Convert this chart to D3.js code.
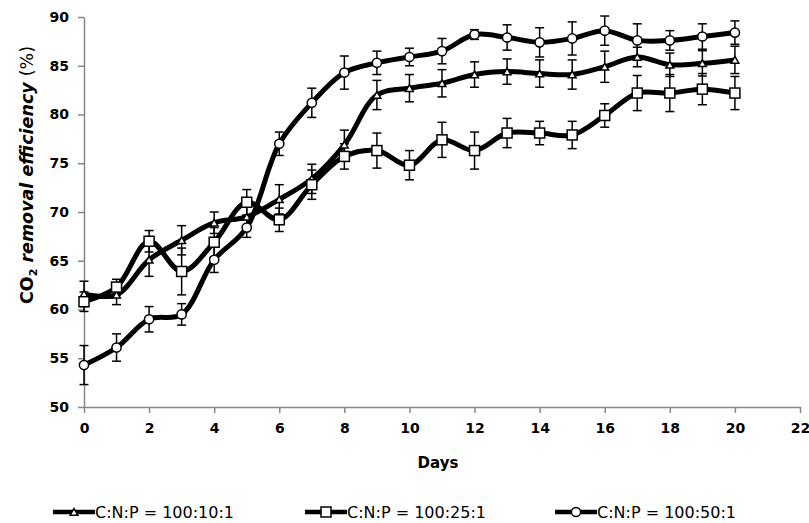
<!DOCTYPE html>
<html lang="en">
<head>
<meta charset="utf-8">
<script src="https://d3js.org/d3.v7.min.js"></script>
<style>
  body { margin: 0; background: #fff; }
  svg text { font-family: "DejaVu Sans", sans-serif; fill: #000; }
</style>
</head>
<body>
<svg id="chart" width="809" height="523"></svg>
<script>
// data
const days = [0, 1, 2, 3, 4, 5, 6, 7, 8, 9, 10, 11, 12, 13, 14, 15, 16, 17, 18, 19, 20];
const triVals = [61.6, 61.5, 65.1, 67.1, 68.9, 69.5, 71.3, 73.4, 76.9, 82.0, 82.7, 83.2, 84.1, 84.4, 84.2, 84.1, 84.9, 85.9, 85.1, 85.25, 85.6];
const triErr  = [1.3, 1.0, 1.7, 1.5, 1.1, 1.0, 1.5, 1.5, 1.5, 1.5, 1.4, 1.4, 1.3, 1.3, 1.4, 1.5, 1.6, 1.0, 1.2, 1.3, 1.4];
const sqVals  = [60.8, 62.3, 67.0, 63.9, 66.9, 71.0, 69.2, 72.8, 75.7, 76.3, 74.8, 77.4, 76.3, 78.1, 78.1, 77.9, 79.9, 82.2, 82.2, 82.6, 82.2];
const sqErr   = [1.0, 0.8, 1.1, 2.4, 1.5, 1.3, 1.2, 1.5, 1.3, 1.8, 1.5, 1.8, 1.9, 1.5, 1.2, 1.4, 1.2, 1.8, 1.9, 1.6, 1.7];
const circVals = [54.3, 56.1, 59.0, 59.5, 65.1, 68.4, 77.0, 81.2, 84.3, 85.3, 85.9, 86.5, 88.2, 87.9, 87.4, 87.8, 88.6, 87.6, 87.6, 88.0, 88.4];
const circErr  = [2.0, 1.4, 1.3, 1.1, 1.3, 1.0, 1.2, 1.5, 1.7, 1.2, 0.9, 1.3, 0.5, 1.3, 1.5, 1.7, 1.5, 1.7, 1.0, 1.3, 1.2];
const seriesNames = ["C:N:P = 100:10:1", "C:N:P = 100:25:1", "C:N:P = 100:50:1"];
const seriesShapes = ["triangle", "square", "circle"];
const xTicks = [0, 2, 4, 6, 8, 10, 12, 14, 16, 18, 20, 22];
const yTicks = [50, 55, 60, 65, 70, 75, 80, 85, 90];

const series = [
  { name: seriesNames[0], shape: seriesShapes[0], vals: triVals, err: triErr },
  { name: seriesNames[1], shape: seriesShapes[1], vals: sqVals, err: sqErr },
  { name: seriesNames[2], shape: seriesShapes[2], vals: circVals, err: circErr }
];

const svg = d3.select("#chart");
const axisColor = "#868686";

const x = d3.scaleLinear().domain([0, 22]).range([84, 800]);
const y = d3.scaleLinear().domain([50, 90]).range([407, 17]);

// axes
const gx = svg.append("g").attr("transform", "translate(0,407)")
  .call(d3.axisBottom(x).tickValues(xTicks).tickSize(6).tickSizeOuter(0).tickPadding(10));
const gy = svg.append("g").attr("transform", "translate(84,0)")
  .call(d3.axisLeft(y).tickValues(yTicks).tickSize(6).tickSizeOuter(0).tickPadding(9));
[gx, gy].forEach(g => {
  g.select(".domain").attr("stroke", axisColor).attr("stroke-width", 1.5);
  g.selectAll(".tick line").attr("stroke", axisColor).attr("stroke-width", 1.5);
  g.selectAll(".tick text").attr("font-size", 14).attr("font-weight", "bold")
    .attr("font-family", "DejaVu Sans, sans-serif").attr("fill", "#111");
});

// axis titles
svg.append("text").attr("x", 438).attr("y", 468).attr("text-anchor", "middle")
  .attr("font-size", 15).attr("font-weight", "bold").text("Days");

const yl = svg.append("text").attr("transform", "translate(33,175) rotate(-90)")
  .attr("text-anchor", "middle").attr("font-size", 17.5).attr("font-weight", "bold");
yl.append("tspan").text("CO");
yl.append("tspan").attr("font-size", 11).attr("dy", 4).text("2");
yl.append("tspan").attr("dy", -4).attr("font-style", "italic").text(" removal efficiency ");
yl.append("tspan").attr("font-weight", "normal").text("(%)");

// marker drawing
function drawMarker(g, shape, cx, cy) {
  if (shape === "square") {
    g.append("rect").attr("x", cx - 5).attr("y", cy - 5).attr("width", 10).attr("height", 10)
      .attr("fill", "#fff").attr("stroke", "#000").attr("stroke-width", 1.5);
  } else if (shape === "circle") {
    g.append("circle").attr("cx", cx).attr("cy", cy).attr("r", 4.6)
      .attr("fill", "#fff").attr("stroke", "#000").attr("stroke-width", 1.5);
  } else {
    g.append("path").attr("d", d3.symbol(d3.symbolTriangle, 26)())
      .attr("transform", `translate(${cx},${cy + 1})`)
      .attr("fill", "#fff").attr("stroke", "#000").attr("stroke-width", 1.5);
  }
}

// error bars
const errG = svg.append("g");
series.forEach(s => {
  days.forEach((d, i) => {
    const cx = x(d), lo = y(s.vals[i] - s.err[i]), hi = y(s.vals[i] + s.err[i]);
    errG.append("line").attr("x1", cx).attr("x2", cx).attr("y1", lo).attr("y2", hi)
      .attr("stroke", "#000").attr("stroke-width", 1.5);
    [lo, hi].forEach(yy => errG.append("line").attr("x1", cx - 4.5).attr("x2", cx + 4.5)
      .attr("y1", yy).attr("y2", yy).attr("stroke", "#000").attr("stroke-width", 1.5));
  });
});

// lines and markers
const line = d3.line().x(d => x(d[0])).y(d => y(d[1])).curve(d3.curveCatmullRom.alpha(0.5));
series.forEach(s => {
  const g = svg.append("g");
  g.append("path").datum(days.map((d, i) => [d, s.vals[i]])).attr("d", line)
    .attr("fill", "none").attr("stroke", "#000").attr("stroke-width", 5).attr("stroke-linejoin", "round");
  days.forEach((d, i) => drawMarker(g, s.shape, x(d), y(s.vals[i])));
});

// legend
const legX = [53, 305, 555];
series.forEach((s, i) => {
  const g = svg.append("g").attr("transform", `translate(${legX[i]},512)`);
  g.append("line").attr("x1", 0).attr("x2", 42).attr("y1", 0).attr("y2", 0)
    .attr("stroke", "#000").attr("stroke-width", 4.5);
  drawMarker(g, s.shape, 21, 0);
  g.append("text").attr("x", 42).attr("y", 6).attr("font-size", 16).text(s.name);
});
</script>
</body>
</html>
